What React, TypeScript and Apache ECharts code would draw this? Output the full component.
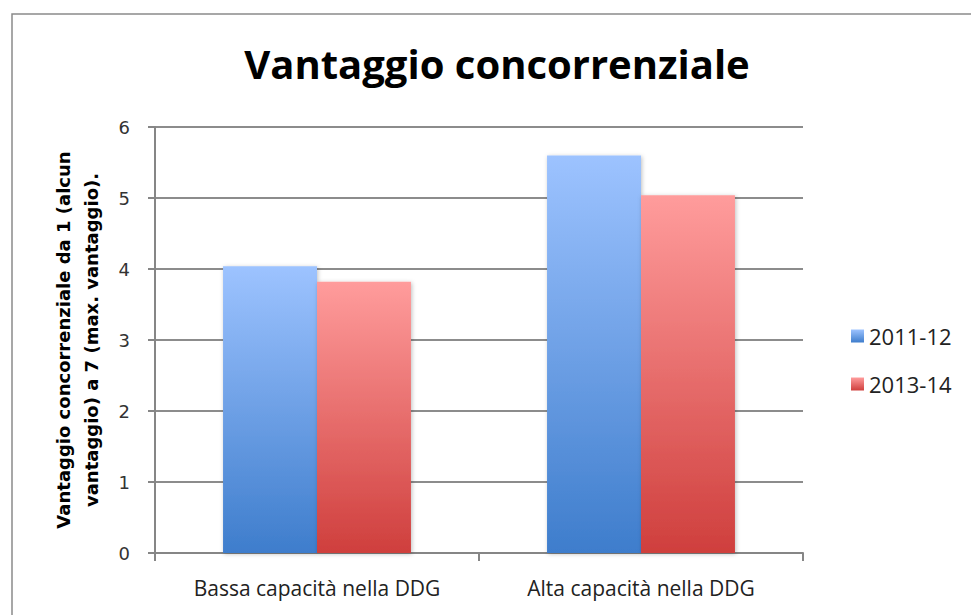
import React, { useEffect, useRef } from "react";
import * as echarts from "echarts";

const categories = ["Bassa capacità nella DDG", "Alta capacità nella DDG"];
const seriesNames = ["2011-12", "2013-14"];
const values2011 = [4.04, 5.6];
const values2013 = [3.82, 5.04];
const yTicks = [0, 1, 2, 3, 4, 5, 6];

const blueGrad = new echarts.graphic.LinearGradient(0, 0, 0, 1, [
  { offset: 0, color: "#9DC3FF" },
  { offset: 1, color: "#3E7DCC" },
]);
const redGrad = new echarts.graphic.LinearGradient(0, 0, 0, 1, [
  { offset: 0, color: "#FF9C9C" },
  { offset: 1, color: "#CF3F3D" },
]);

export default function App() {
  const ref = useRef<HTMLDivElement>(null);
  useEffect(() => {
    document.body.style.margin = "0";
    const chart = echarts.init(ref.current!, undefined, { renderer: "svg" });
    chart.setOption({
      animation: false,
      backgroundColor: "#ffffff",
      title: {
        text: "Vantaggio concorrenziale",
        left: 492,
        top: 38,
        textAlign: "center",
        textStyle: {
          fontFamily: "Open Sans",
          fontWeight: "bold",
          fontSize: 40,
          color: "#000",
        },
      },
      graphic: [
        {
          type: "rect",
          shape: { x: 12, y: 14, width: 980, height: 620 },
          style: { fill: "none", stroke: "#8a8a8a", lineWidth: 1.5 },
          silent: true,
        },
      ],
      legend: {
        orient: "vertical",
        left: 846,
        top: 320,
        itemWidth: 13,
        itemHeight: 13,
        itemGap: 26,
        icon: "rect",
        textStyle: { fontFamily: "Open Sans", fontSize: 22, color: "#222" },
        data: seriesNames,
      },
      grid: { left: 155, top: 127, width: 648, height: 426, containLabel: false },
      xAxis: {
        type: "category",
        data: categories,
        axisLine: { lineStyle: { color: "#868686", width: 2 } },
        axisTick: { show: true, length: 8, alignWithLabel: false, lineStyle: { color: "#868686", width: 2 } },
        axisLabel: {
          margin: 24,
          fontFamily: "Open Sans",
          fontSize: 21,
          color: "#222",
        },
      },
      yAxis: {
        type: "value",
        min: yTicks[0],
        max: yTicks[yTicks.length - 1],
        interval: 1,
        name: "Vantaggio concorrenziale da 1 (alcun\nvantaggio) a 7 (max. vantaggio).",
        nameLocation: "middle",
        nameGap: 50,
        nameRotate: 90,
        nameTextStyle: {
          fontFamily: "DejaVu Sans",
          fontWeight: "bold",
          fontSize: 18,
          color: "#000",
          lineHeight: 28,
        },
        axisLine: { show: true, lineStyle: { color: "#868686", width: 2 } },
        axisTick: { show: true, length: 7, lineStyle: { color: "#868686", width: 2 } },
        splitLine: { lineStyle: { color: "#8c8c8c", width: 2 } },
        axisLabel: {
          margin: 25,
          fontFamily: "DejaVu Sans",
          fontSize: 18,
          color: "#333",
        },
      },
      series: [
        {
          name: seriesNames[0],
          type: "bar",
          data: values2011,
          barGap: "0%",
          barCategoryGap: "42%",
          itemStyle: { color: blueGrad, shadowColor: "rgba(0,0,0,0.25)", shadowBlur: 4, shadowOffsetX: 1, shadowOffsetY: 1 },
        },
        {
          name: seriesNames[1],
          type: "bar",
          data: values2013,
          barGap: "0%",
          barCategoryGap: "42%",
          itemStyle: { color: redGrad, shadowColor: "rgba(0,0,0,0.25)", shadowBlur: 4, shadowOffsetX: 1, shadowOffsetY: 1 },
        },
      ],
    });
    return () => chart.dispose();
  }, []);
  return <div ref={ref} style={{ width: 971, height: 615 }} />;
}
